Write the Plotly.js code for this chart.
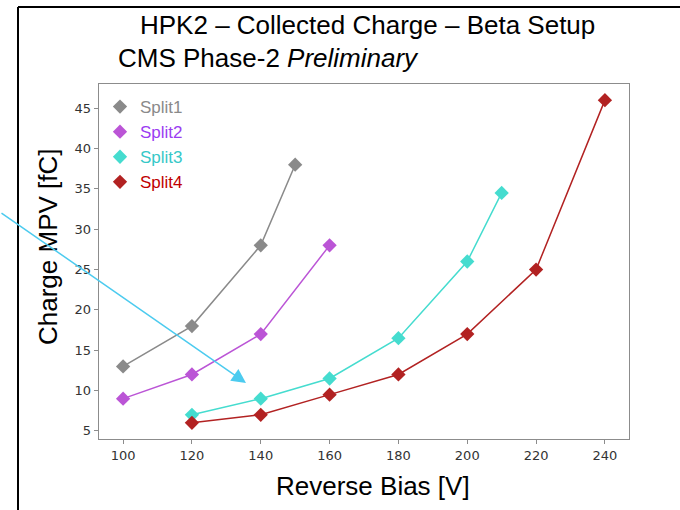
<!DOCTYPE html>
<html>
<head>
<meta charset="utf-8">
<script src="https://cdn.plot.ly/plotly-3.0.1.min.js"></script>
<style>
html,body{margin:0;padding:0;background:#fff;}
#chart{width:680px;height:510px;}
</style>
</head>
<body>
<div id="chart"></div>
<script>
// ---- data ----
const split1_x = [100, 120, 140, 150];
const split1_y = [13, 18, 28, 38];
const split2_x = [100, 120, 140, 160];
const split2_y = [9, 12, 17, 28];
const split3_x = [120, 140, 160, 180, 200, 210];
const split3_y = [7, 9, 11.5, 16.5, 26, 34.5];
const split4_x = [120, 140, 160, 180, 200, 220, 240];
const split4_y = [6, 7, 9.5, 12, 17, 25, 46];
const seriesNames = ['Split1', 'Split2', 'Split3', 'Split4'];
const xTicks = [100, 120, 140, 160, 180, 200, 220, 240];
const yTicks = [5, 10, 15, 20, 25, 30, 35, 40, 45];

const lineColors = ['#8a8a8a', '#bb55d6', '#45dccf', '#b22222'];
const legendColors = ['#8a8a8a', '#9b3cf2', '#36c8c8', '#c00000'];

// plot area in pixels: x 99..629, y 84..439
const L = 99, R = 629, T = 84, B = 439;
const px = v => (v - L) / (R - L);
const py = v => (B - v) / (B - T);

const xs = [split1_x, split2_x, split3_x, split4_x];
const ys = [split1_y, split2_y, split3_y, split4_y];

const data = [];
for (let i = 0; i < 4; i++) {
  data.push({
    x: xs[i], y: ys[i], type: 'scatter', mode: 'lines', showlegend: false,
    line: {color: lineColors[i], width: 1.5}, hoverinfo: 'skip'
  });
}
for (let i = 0; i < 4; i++) {
  data.push({
    x: xs[i], y: ys[i], type: 'scatter', mode: 'markers',
    name: '<span style="color:' + legendColors[i] + '">' + seriesNames[i] + '</span>',
    marker: {symbol: 'diamond', size: 11, color: lineColors[i]},
    cliponaxis: false
  });
}

const fontMain = 'Liberation Sans, Arial, sans-serif';

const layout = {
  width: 680, height: 510,
  paper_bgcolor: '#ffffff', plot_bgcolor: '#ffffff',
  margin: {l: L, r: 680 - R, t: T, b: 510 - B, pad: 0},
  showlegend: true,
  legend: {
    x: px(100), y: py(89), xanchor: 'left', yanchor: 'top',
    bgcolor: 'rgba(255,255,255,0)', borderwidth: 0,
    font: {family: fontMain, size: 17},
    itemclick: false
  },
  xaxis: {
    range: [93, 247], tickvals: xTicks, ticktext: xTicks.map(String),
    showgrid: false, zeroline: false, showline: true, mirror: true,
    linecolor: '#8c8c8c', linewidth: 1.3,
    ticks: 'outside', ticklen: 4, tickcolor: '#8c8c8c',
    tickfont: {family: 'DejaVu Sans, sans-serif', size: 13, color: '#333'}
  },
  yaxis: {
    range: [4, 48], tickvals: yTicks, ticktext: yTicks.map(String),
    showgrid: false, zeroline: false, showline: true, mirror: true,
    linecolor: '#8c8c8c', linewidth: 1.3,
    ticks: 'outside', ticklen: 4, tickcolor: '#8c8c8c',
    tickfont: {family: 'DejaVu Sans, sans-serif', size: 13, color: '#333'}
  },
  annotations: [
    {text: 'HPK2 – Collected Charge – Beta Setup', xref: 'paper', yref: 'paper',
     x: px(138), y: py(25), xanchor: 'left', yanchor: 'middle', showarrow: false,
     font: {family: fontMain, size: 26, color: '#000'}},
    {text: 'CMS Phase-2 <i>Preliminary</i>', xref: 'paper', yref: 'paper',
     x: px(116), y: py(58), xanchor: 'left', yanchor: 'middle', showarrow: false,
     font: {family: fontMain, size: 26, color: '#000'}},
    {text: 'Reverse Bias [V]', xref: 'paper', yref: 'paper',
     x: px(373), y: py(486), xanchor: 'center', yanchor: 'middle', showarrow: false,
     font: {family: fontMain, size: 26, color: '#000'}},
    {text: 'Charge MPV [fC]', xref: 'paper', yref: 'paper', textangle: -90,
     x: px(48), y: py(247), xanchor: 'center', yanchor: 'middle', showarrow: false,
     font: {family: fontMain, size: 26, color: '#000'}},
    {text: '', xref: 'paper', yref: 'paper', x: px(246), y: py(383),
     showarrow: true, ax: -246, ay: -171, axref: 'pixel', ayref: 'pixel',
     arrowhead: 2, arrowsize: 1.9, arrowwidth: 1.5, arrowcolor: '#4ccbef'}
  ],
  shapes: [
    {type: 'line', xref: 'paper', yref: 'paper', x0: px(18), x1: px(18), y0: py(7), y1: py(512),
     line: {color: '#000', width: 2}},
    {type: 'line', xref: 'paper', yref: 'paper', x0: px(18), x1: px(682), y0: py(7), y1: py(7),
     line: {color: '#000', width: 2}}
  ]
};

Plotly.newPlot('chart', data, layout, {displayModeBar: false, staticPlot: true});
</script>
</body>
</html>
